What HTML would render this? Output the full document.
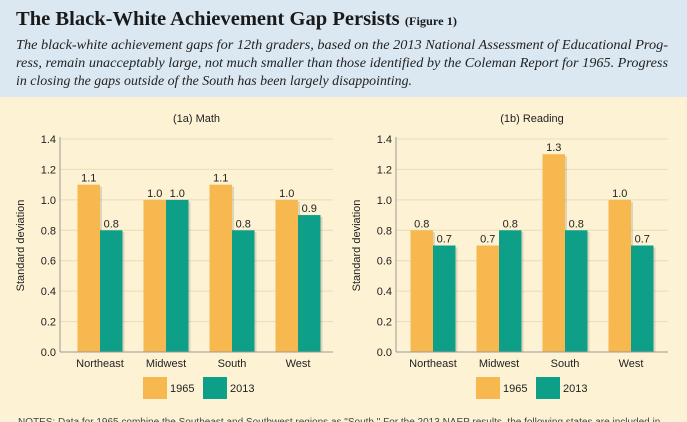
<!DOCTYPE html>
<html><head><meta charset="utf-8"><style>
body{margin:0;width:687px;height:422px;overflow:hidden;background:#fdf2d4;font-family:"Liberation Sans",sans-serif}
#hdr{position:absolute;left:0;top:0;width:687px;height:97px;background:#dbe8f2}
#title{position:absolute;left:16px;top:8px;font-family:"Liberation Serif",serif;font-weight:bold;font-size:20px;color:#1a1a1a;white-space:nowrap;transform-origin:0 0}
#title span{font-size:12px}
.dl{position:absolute;left:16px;font-family:"Liberation Serif",serif;font-style:italic;font-size:14px;color:#222;white-space:nowrap;transform-origin:0 0}
svg{position:absolute;left:0;top:0}
</style></head><body>
<div id="hdr"></div>
<div id="title" class="fit" data-w="441">The Black-White Achievement Gap Persists <span>(Figure 1)</span></div>
<div class="dl fit" style="top:38px" data-w="652">The black-white achievement gaps for 12th graders, based on the 2013 National Assessment of Educational Prog-</div>
<div class="dl fit" style="top:56px" data-w="652">ress, remain unacceptably large, not much smaller than those identified by the Coleman Report for 1965. Progress</div>
<div class="dl fit" style="top:74px" data-w="396">in closing the gaps outside of the South has been largely disappointing.</div>
<svg id="chart" width="687" height="422"></svg>
<script>
document.querySelectorAll('.fit').forEach(d=>{const w=d.getBoundingClientRect().width;d.style.transform='scaleX('+(parseFloat(d.dataset.w)/w)+')';});
const categories=["Northeast","Midwest","South","West"];
const mathValues1965=[1.1,1.0,1.1,1.0];
const mathValues2013=[0.8,1.0,0.8,0.9];
const readValues1965=[0.8,0.7,1.3,1.0];
const readValues2013=[0.7,0.8,0.8,0.7];
const tickValues=[0,0.2,0.4,0.6,0.8,1.0,1.2,1.4];
const seriesNames=["1965","2013"];
const svg=document.getElementById('chart');
const NS="http://www.w3.org/2000/svg";
function mk(tag,attrs,parent){const e=document.createElementNS(NS,tag);for(const k in attrs)e.setAttribute(k,attrs[k]);(parent||svg).appendChild(e);return e;}
const C1="#f8b850",C2="#0e9f88";
function panel(ax,right,first,title,v1,v2,name){
  const g=mk('g',{});
  
  
  const y0=352,y1=139;
  const y=v=>y0-(v/1.4)*(y0-y1);
  const step=66,bw=22.5;
  const cx=i=>ax+first+i*step;
  const t=mk('text',{x:(ax+right)/2,y:122,'text-anchor':'middle','font-size':'11',fill:'#222'},g);t.textContent=title;
  
  
  tickValues.forEach(v=>{
    if(v>0){const l=mk('line',{x1:ax,x2:right,y1:y(v),y2:y(v),stroke:'#e8dcb8','stroke-width':1},g);
    
    }
    const tx=mk('text',{x:ax-4,y:y(v)+4,'text-anchor':'end','font-size':'11',fill:'#222'},g);tx.textContent=v.toFixed(1);
    
    
  });
  const yl=mk('text',{transform:`translate(${ax-36},${(y0+y1)/2}) rotate(-90)`,'text-anchor':'middle','font-size':'11',fill:'#222'},g);yl.textContent="Standard deviation";
  
  
  categories.forEach((c,i)=>{
    [[v1[i],C1,-bw],[v2[i],C2,0]].forEach(([v,col,off],k)=>{
      const x=cx(i)+off;
      const sh=mk('rect',{x:x+2,y:y(v)+2,width:bw,height:y0-y(v)-2,fill:'#000',opacity:0.12},g);
      
      
      const r=mk('rect',{x:x,y:y(v),width:bw,height:y0-y(v),fill:col},g);
      
      
      const lb=mk('text',{x:x+bw/2,y:y(v)-3,'text-anchor':'middle','font-size':'11',fill:'#222'},g);lb.textContent=v.toFixed(1);
      
      
    });
    const cl=mk('text',{x:cx(i),y:367,'text-anchor':'middle','font-size':'11',fill:'#222'},g);cl.textContent=c;
    
    
  });
  const ya=mk('line',{x1:ax,x2:ax,y1:y1-2,y2:y0,stroke:'#999','stroke-width':1},g);
  
  
  const xa=mk('line',{x1:ax,x2:right,y1:y0,y2:y0,stroke:'#999','stroke-width':1},g);
  
  
  const lx=ax+first+43;
  [[C1,seriesNames[0],0],[C2,seriesNames[1],60]].forEach(([col,n,o])=>{
    const r=mk('rect',{x:lx+o,y:377,width:24,height:22,fill:col},g);
    
    
    const t2=mk('text',{x:lx+o+27,y:392,'font-size':'11',fill:'#222'},g);t2.textContent=n;
    
    
  });
}
panel(60,333,40,"(1a) Math",mathValues1965,mathValues2013,"math-chart");
panel(396,668,37,"(1b) Reading",readValues1965,readValues2013,"reading-chart");
const n=mk('text',{x:18,y:425,'font-size':'10',fill:'#444'});n.textContent="NOTES: Data for 1965 combine the Southeast and Southwest regions as \"South.\" For the 2013 NAEP results, the following states are included in";


</script>
</body></html>
